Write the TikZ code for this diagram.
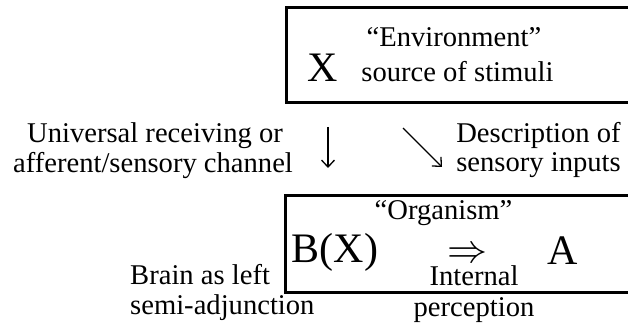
\documentclass[tikz,border=0pt]{standalone}
\usepackage{fontspec}
\setmainfont{Liberation Serif}
\usetikzlibrary{arrows.meta}
\begin{document}
\begin{tikzpicture}[x=1pt,y=1pt,
  txt/.style={inner sep=0pt, font=\fontsize{28.6}{30}\selectfont},
  big/.style={inner sep=0pt, font=\fontsize{42}{44}\selectfont},
  frame/.style={draw, line width=3pt, inner sep=0pt, anchor=north west},
  thinarrow/.style={line width=1.3pt, -{Straight Barb[length=7pt,width=13pt]}}]
\useasboundingbox (0,0) rectangle (628,-328);
\clip (0,0) rectangle (628,-328);
% boxes
\node[frame, minimum width=360pt, minimum height=95.5pt] (envbox) at (285,-6) {};
\node[frame, minimum width=360pt, minimum height=96pt] (orgbox) at (284,-194.5) {};
% top box content
\node[big, anchor=base] (x) at (323,-82) {X};
\node[txt, anchor=base] (env) at (454,-47) {“Environment”};
\node[txt, anchor=base] (src) at (457.5,-81.5) {source of stimuli};
% middle labels
\node[txt, anchor=base] (univ) at (155,-143) {Universal receiving or};
\node[txt, anchor=base] (aff) at (153,-173) {afferent/sensory channel};
\node[txt, anchor=base] (desc) at (538.5,-143) {Description of};
\node[txt, anchor=base] (sens) at (538.5,-172) {sensory inputs};
% arrows
\coordinate (d1) at (328,-127);
\coordinate (d2) at (328,-168);
\coordinate (s1) at (403,-128);
\coordinate (s2) at (442,-167);
\draw[thinarrow] (d1) -- (d2);
\draw[thinarrow] (s1) -- (s2);
% bottom box content
\node[txt, anchor=base] (org) at (443.5,-220) {“Organism”};
\node[big, anchor=base] (bx) at (335,-262) {B(X)};
\node[inner sep=0pt] (impl) at (467,-255) {\scalebox{4}{$\Rightarrow$}};
\node[big, anchor=base] (a) at (563,-265) {A};
\node[txt, anchor=base] (int) at (474,-285) {Internal};
\node[txt, anchor=base] (perc) at (474,-316) {perception};
\node[txt, anchor=base west] (brain) at (130,-284) {Brain as left};
\node[txt, anchor=base west] (semi) at (130,-314) {semi-adjunction};
\end{tikzpicture}
\end{document}
